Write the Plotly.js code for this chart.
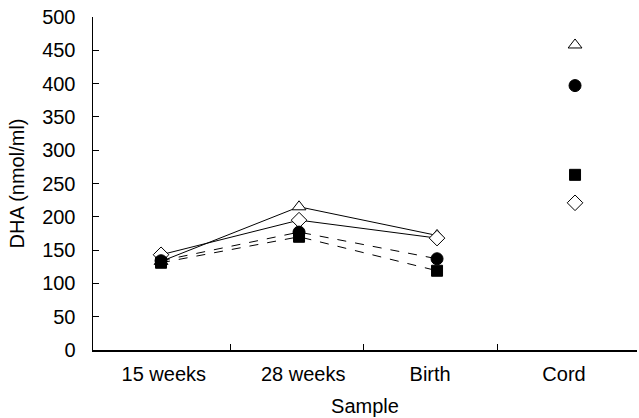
<!DOCTYPE html>
<html>
<head>
<meta charset="utf-8">
<script src="https://cdn.plot.ly/plotly-3.0.1.min.js"></script>
<style>html,body{margin:0;padding:0;background:#fff}#chart{width:639px;height:418px}</style>
</head>
<body>
<div id="chart"></div>
<script>
const categories = ["15 weeks", "28 weeks", "Birth", "Cord"];
const triangleSeries = [133, 215, 172, 458];
const diamondSeries = [143, 195, 168, 221];
const circleSeries = [134, 177, 137, 397];
const squareSeries = [131, 170, 119, 263];
const yTicks = [0, 50, 100, 150, 200, 250, 300, 350, 400, 450, 500];

const idx = categories.map((c, i) => i);
const lineIdx = idx.slice(0, 3);
const cordIdx = idx.slice(3);
// small label offsets relative to category centres, as in the reference
const labelShift = [0.02, 0.03, -0.05, -0.08];

function series(vals, symbol, fill, dash, size) {
  const marker = {symbol: symbol, color: fill, size: size, line: {color: '#000', width: 1}};
  return [
    {x: lineIdx, y: vals.slice(0, 3), mode: 'lines+markers', line: {color: '#000', width: 1, dash: dash}, marker: marker, showlegend: false, hoverinfo: 'skip'},
    {x: cordIdx, y: vals.slice(3), mode: 'markers', marker: marker, showlegend: false, hoverinfo: 'skip'}
  ];
}

const traces = [].concat(
  series(triangleSeries, 'triangle-up', '#fff', 'solid', 12),
  series(diamondSeries, 'diamond', '#fff', 'solid', 12),
  series(squareSeries, 'square', '#000', 'dash', 11),
  series(circleSeries, 'circle', '#000', 'dash', 12)
);
traces.push({x: [], y: [], xaxis: 'x2', yaxis: 'y', showlegend: false});

const font = {family: 'Liberation Sans, Arial, sans-serif', size: 20, color: '#000'};
const xr = [-0.493, 3.449];

const layout = {
  width: 639, height: 418,
  margin: {l: 93, r: 2, t: 17, b: 68},
  paper_bgcolor: '#fff', plot_bgcolor: '#fff',
  font: font,
  showlegend: false,
  xaxis: {
    range: xr, showgrid: false, zeroline: false,
    showline: true, linecolor: '#000', linewidth: 1.5,
    tickvals: idx.map((v, i) => v + labelShift[i]), ticktext: categories, ticks: '',
    ticklabelstandoff: 5,
    tickfont: font,
    title: {text: 'Sample', font: font, standoff: 15}
  },
  xaxis2: {
    overlaying: 'x', anchor: 'y', side: 'bottom', range: xr,
    showgrid: false, zeroline: false, showline: false,
    tickvals: [0.5, 1.47, 2.44], ticks: 'inside', ticklen: 6, tickwidth: 1, tickcolor: '#000',
    showticklabels: false
  },
  yaxis: {
    range: [0, 500], showgrid: false, zeroline: false,
    showline: true, linecolor: '#000', linewidth: 1.5,
    tickvals: yTicks, ticks: 'inside', ticklen: 6, tickwidth: 1, tickcolor: '#000',
    ticklabelstandoff: 12,
    tickfont: font,
    title: {text: 'DHA (nmol/ml)', font: font, standoff: 12}
  }
};

Plotly.newPlot('chart', traces, layout, {displayModeBar: false, staticPlot: true});
</script>
</body>
</html>
